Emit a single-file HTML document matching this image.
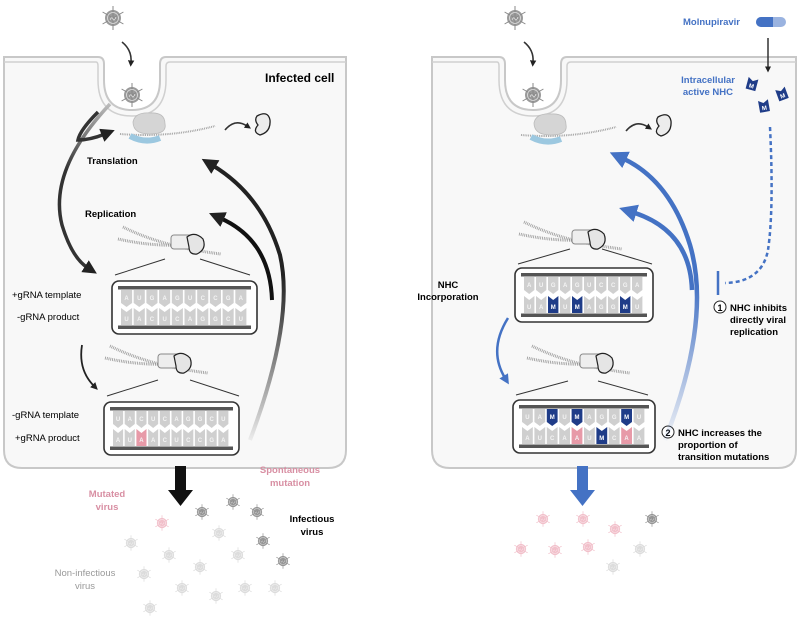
<!DOCTYPE html>
<html><head><meta charset="utf-8">
<style>
html,body{margin:0;padding:0;background:#fff;}
svg{display:block;font-family:"Liberation Sans",Arial,sans-serif;}
.b{font-weight:bold;}
</style></head>
<body>
<svg id="s" width="800" height="620" viewBox="0 0 800 620" xmlns="http://www.w3.org/2000/svg">
<defs>
 <symbol id="vir" viewBox="-14 -14 28 28">
  <g stroke="currentColor" stroke-width="1">
   <line x1="0" y1="-12" x2="0" y2="12"/><line x1="-10.4" y1="-6" x2="10.4" y2="6"/><line x1="-10.4" y1="6" x2="10.4" y2="-6"/>
  </g>
  <circle r="8" fill="currentColor" opacity="0.85"/>
  <circle r="5.5" fill="none" stroke="#fff" stroke-width="0.8" opacity="0.7"/>
  <path d="M-3,2 q2,-4 3,-1 q1,3 3,-2" stroke="#fff" fill="none" stroke-width="0.7" opacity="0.8"/>
 </symbol>
 <g id="rc">
  <path d="M0,0 Q40,20 98,27" stroke="#999" stroke-width="3" fill="none" stroke-dasharray="0.8 1"/>
  <path d="M-5,12 Q40,22 80,16" stroke="#999" stroke-width="3" fill="none" stroke-dasharray="0.8 1"/>
  <rect x="48" y="8" width="22" height="14" rx="3" fill="#eee" stroke="#888"/>
  <path d="M64,10 Q72,4 80,12 Q84,22 74,27 Q66,28 66,20Z" fill="#e5e5e5" stroke="#222" stroke-width="1.2"/>
 </g>
 <linearGradient id="gl" x1="0" y1="1" x2="0" y2="0"><stop offset="0" stop-color="#000" stop-opacity="0.05"/><stop offset="0.6" stop-color="#222"/></linearGradient>
 <linearGradient id="gb" x1="0" y1="1" x2="0" y2="0"><stop offset="0" stop-color="#4472c4" stop-opacity="0.05"/><stop offset="0.55" stop-color="#4472c4"/></linearGradient>
 <linearGradient id="gc" x1="0" y1="0" x2="0" y2="1"><stop offset="0" stop-color="#bbb"/><stop offset="0.4" stop-color="#333"/></linearGradient>
 <marker id="akb" markerWidth="4" markerHeight="4" refX="1" refY="2" orient="auto" markerUnits="strokeWidth"><path d="M0,0 L4,2 L0,4 Z" fill="#222"/></marker>
 <marker id="abb" markerWidth="4" markerHeight="4" refX="1" refY="2" orient="auto" markerUnits="strokeWidth"><path d="M0,0 L4,2 L0,4 Z" fill="#4472c4"/></marker>
</defs>

<g fill="#f8f8f8" stroke="#c8c8c8" stroke-width="2">
 <path d="M4,57 H98 Q104,57 104,64 V80 Q104,110 132,110 Q160,110 160,80 V64 Q160,57 166,57 H346 V450 Q346,468 328,468 H22 Q4,468 4,450 Z"/>
 <path d="M432,57 H499 Q505,57 505,64 V80 Q505,110 533,110 Q561,110 561,80 V64 Q561,57 567,57 H796 V450 Q796,468 778,468 H450 Q432,468 432,450 Z"/>
</g>
<g fill="none" stroke="#d0d0d0" stroke-width="1.5">
 <path d="M4,62 H96 Q98,62 98,66 V80 Q98,116 132,116 Q166,116 166,80 V66 Q166,62 170,62 H346"/>
 <path d="M432,62 H497 Q499,62 499,66 V80 Q499,116 533,116 Q567,116 567,80 V66 Q567,62 571,62 H796"/>
</g>

<use href="#vir" x="99" y="4" width="28" height="28" color="#888"/>
<use href="#vir" x="118" y="81" width="28" height="28" color="#888"/>
<use href="#vir" x="501" y="4" width="28" height="28" color="#888"/>
<use href="#vir" x="519" y="81" width="28" height="28" color="#888"/>
<path d="M122,42 Q132,50 131,62" stroke="#333" stroke-width="1.6" fill="none" marker-end="url(#akb)"/>
<path d="M524,42 Q534,50 533,62" stroke="#333" stroke-width="1.6" fill="none" marker-end="url(#akb)"/>

<g id="tr">
 <path d="M120,134 Q170,138 215,126" stroke="#999" stroke-width="2" fill="none" stroke-dasharray="0.8 1"/>
 <path d="M130,136 Q145,144 160,138" stroke="#9cc8e0" stroke-width="6" fill="none"/>
 <path d="M133,122 Q135,112 150,113 Q165,112 165,124 Q167,134 150,134 Q133,134 133,122Z" fill="#d5d5d5" stroke="#bbb" stroke-width="0.8"/>
 <path d="M225,130 Q235,118 247,126" stroke="#333" stroke-width="1.6" fill="none" marker-end="url(#akb)"/>
 <path d="M257,116 Q268,110 270,120 Q271,132 260,135 Q252,132 258,125 Q254,120 257,116Z" fill="#ececec" stroke="#222" stroke-width="1.3"/>
</g>
<use href="#tr" x="401" y="1"/>

<text x="265" y="82" class="b" font-size="12">Infected cell</text>
<text x="87" y="164" class="b" font-size="9.5">Translation</text>
<text x="85" y="217" class="b" font-size="9.5">Replication</text>
<text x="12" y="298" font-size="9.5">+gRNA template</text>
<text x="17" y="320" font-size="9.5">-gRNA product</text>
<text x="12" y="418" font-size="9.5">-gRNA template</text>
<text x="15" y="441" font-size="9.5">+gRNA product</text>
<text x="290" y="473" class="b" font-size="9.5" fill="#d88fa3" text-anchor="middle">Spontaneous</text>
<text x="290" y="486" class="b" font-size="9.5" fill="#d88fa3" text-anchor="middle">mutation</text>
<text x="107" y="497" class="b" font-size="9.5" fill="#d88fa3" text-anchor="middle">Mutated</text>
<text x="107" y="510" class="b" font-size="9.5" fill="#d88fa3" text-anchor="middle">virus</text>
<text x="312" y="522" class="b" font-size="9.5" text-anchor="middle">Infectious</text>
<text x="312" y="535" class="b" font-size="9.5" text-anchor="middle">virus</text>
<text x="85" y="576" font-size="9.5" fill="#999" text-anchor="middle">Non-infectious</text>
<text x="85" y="589" font-size="9.5" fill="#999" text-anchor="middle">virus</text>

<text x="683" y="25" class="b" font-size="9.5" fill="#4472c4">Molnupiravir</text>
<rect x="756" y="17" width="30" height="10" rx="5" fill="#9ab3e0"/>
<path d="M761,17 H773 V27 H761 A5,5 0 0 1 761,17Z" fill="#4472c4"/>
<text x="735" y="83" class="b" font-size="9.5" fill="#4472c4" text-anchor="end">Intracellular</text>
<text x="733" y="95" class="b" font-size="9.5" fill="#4472c4" text-anchor="end">active NHC</text>
<text x="448" y="288" class="b" font-size="9.5" text-anchor="middle">NHC</text>
<text x="448" y="300" class="b" font-size="9.5" text-anchor="middle">Incorporation</text>
<circle cx="720" cy="307" r="6" fill="#fff" stroke="#222"/><text x="720" y="311" font-size="9" text-anchor="middle" class="b">1</text>
<text x="730" y="311" class="b" font-size="9.5">NHC inhibits</text>
<text x="730" y="323" class="b" font-size="9.5">directly viral</text>
<text x="730" y="335" class="b" font-size="9.5">replication</text>
<circle cx="668" cy="432" r="6" fill="#fff" stroke="#222"/><text x="668" y="436" font-size="9" text-anchor="middle" class="b">2</text>
<text x="678" y="436" class="b" font-size="9.5">NHC increases the</text>
<text x="678" y="448" class="b" font-size="9.5">proportion of</text>
<text x="678" y="460" class="b" font-size="9.5">transition mutations</text>

<path d="M768,38 V68" stroke="#333" stroke-width="1.5" fill="none" marker-end="url(#akb)"/>
<g fill="#1f3c88" font-size="6" class="b">
 <g transform="translate(752,84) rotate(15)"><path d="M-5,-6 L0,-3 L5,-6 V6 H-5Z"/><text x="0" y="4" fill="#fff" text-anchor="middle">M</text></g>
 <g transform="translate(782,94) rotate(-20)"><path d="M-5,-6 L0,-3 L5,-6 V6 H-5Z"/><text x="0" y="4" fill="#fff" text-anchor="middle">M</text></g>
 <g transform="translate(764,106) rotate(-10)"><path d="M-5,-6 L0,-3 L5,-6 V6 H-5Z"/><text x="0" y="4" fill="#fff" text-anchor="middle">M</text></g>
</g>
<path d="M770,127 Q774,210 768,250 Q762,282 725,283" stroke="#4472c4" stroke-width="2.5" fill="none" stroke-dasharray="4 3"/>
<line x1="718" y1="271" x2="718" y2="295" stroke="#4472c4" stroke-width="2.5"/>

<path d="M110,104 Q48,170 62,225 Q72,258 88,268" stroke="url(#gc)" stroke-width="3.5" fill="none" marker-end="url(#akb)"/>
<path d="M98,112 Q80,130 78,140 Q90,140 105,134" stroke="#333" stroke-width="3.5" fill="none" marker-end="url(#akb)"/>
<path d="M82,345 Q78,370 94,386" stroke="#222" stroke-width="1.8" fill="none" marker-end="url(#akb)"/>
<path d="M250,440 Q295,320 280,255 Q262,195 212,165" stroke="url(#gl)" stroke-width="4" fill="none" marker-end="url(#akb)"/>
<path d="M272,300 Q270,240 220,218" stroke="#111" stroke-width="4" fill="none" marker-end="url(#akb)"/>

<path d="M665,440 Q712,320 690,245 Q670,180 622,158" stroke="url(#gb)" stroke-width="4.5" fill="none" marker-end="url(#abb)"/>
<path d="M692,290 Q690,230 632,212" stroke="#4472c4" stroke-width="4.5" fill="none" marker-end="url(#abb)"/>
<path d="M508,318 Q488,350 505,378" stroke="#4472c4" stroke-width="2.5" fill="none" marker-end="url(#abb)"/>

<use href="#rc" x="123" y="227"/>
<use href="#rc" x="110" y="346"/>
<use href="#rc" x="524" y="222"/>
<use href="#rc" x="532" y="346"/>
<g stroke="#333" stroke-width="1">
 <line x1="115" y1="275" x2="165" y2="259"/><line x1="200" y1="259" x2="250" y2="275"/>
 <line x1="107" y1="396" x2="158" y2="380"/><line x1="190" y1="380" x2="239" y2="396"/>
 <line x1="518" y1="264" x2="570" y2="249"/><line x1="602" y1="249" x2="652" y2="264"/>
 <line x1="516" y1="395" x2="568" y2="381"/><line x1="598" y1="381" x2="648" y2="395"/>
</g>
<g id="boxes"></g>

<path d="M175,466 H186 V490 H193 L180.5,506 L168,490 H175Z" fill="#111"/>
<path d="M577,466 H588 V490 H595 L582.5,506 L570,490 H577Z" fill="#4472c4"/>

<g id="vs"></g>
</svg>
<script>
var NS="http://www.w3.org/2000/svg";
function el(n,a,p){var e=document.createElementNS(NS,n);for(var k in a)e.setAttribute(k,a[k]);p.appendChild(e);return e;}
var B=document.getElementById("boxes");
var C={N:"#cfcfcf",P:"#e79aa8",M:"#1f3c88"};
function box(x,y,w,h,top,bot){
 el("rect",{x:x,y:y,width:w,height:h,rx:7,fill:"#fff",stroke:"#333","stroke-width":1.6},B);
 el("rect",{x:x+6,y:y+5,width:w-12,height:3.5,fill:"#555"},B);
 el("rect",{x:x+6,y:y+h-8.5,width:w-12,height:3.5,fill:"#555"},B);
 var p=(w-18)/10,nw=p-1.6;
 for(var i=0;i<10;i++){
  var nx=x+9+i*p;
  var t=top[i],c=t[1]||"N",L=t[0];
  el("path",{d:"M"+nx+","+(y+9)+" h"+nw+" v13 l"+(-nw/2)+",4 l"+(-nw/2)+",-4Z",fill:C[c]},B);
  var tx=el("text",{x:nx+nw/2,y:y+19,"font-size":6,fill:c=="M"?"#fff":"#f4f4f4","text-anchor":"middle","font-weight":"bold"},B);tx.textContent=L;
  var b=bot[i];c=b[1]||"N";L=b[0];
  el("path",{d:"M"+nx+","+(y+h-26)+" l"+(nw/2)+",4 l"+(nw/2)+",-4 v17 h"+(-nw)+"Z",fill:C[c]},B);
  tx=el("text",{x:nx+nw/2,y:y+h-13,"font-size":6,fill:c=="M"?"#fff":"#f4f4f4","text-anchor":"middle","font-weight":"bold"},B);tx.textContent=L;
 }
}
function s(str){return str.split(" ");}
box(112,281,145,53,s("A U G A G U C C G A"),s("U A C U C A G G C U"));
box(104,402,135,53,s("U A C U C A G G C U"),s("A U AP A C U C C G A"));
box(515,268,138,54,s("A U G A G U C C G A"),s("U A MM U MM A G G MM U"));
box(513,400,142,53,s("U A MM U MM A G G MM U"),s("A U C A AP U MM C AP A"));
var V=document.getElementById("vs");
var vs=[[202,512,"#8a8a8a"],[233,502,"#8a8a8a"],[257,512,"#8a8a8a"],[263,541,"#8a8a8a"],[283,561,"#8a8a8a"],
[162,523,"#f0b8c4"],[131,543,"#d8d8d8"],[219,533,"#d8d8d8"],[169,555,"#d8d8d8"],[238,555,"#d8d8d8"],[200,567,"#d8d8d8"],[144,574,"#d8d8d8"],[182,588,"#d8d8d8"],[216,596,"#d8d8d8"],[245,588,"#d8d8d8"],[275,588,"#d8d8d8"],[150,608,"#d8d8d8"],
[543,519,"#f0b8c4"],[583,519,"#f0b8c4"],[615,529,"#f0b8c4"],[521,549,"#f0b8c4"],[555,550,"#f0b8c4"],[588,547,"#f0b8c4"],[652,519,"#8a8a8a"],[640,549,"#d8d8d8"],[613,567,"#d8d8d8"]];
vs.forEach(function(v){el("use",{href:"#vir",x:v[0]-9,y:v[1]-9,width:18,height:18,color:v[2]},V);});
</script>
</body></html>
